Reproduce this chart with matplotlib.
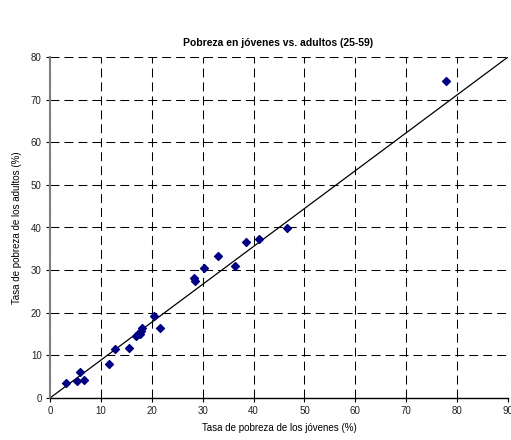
import matplotlib.pyplot as plt

# tasas de pobreza por país (%)
jovenes = [3.2, 5.4, 5.9, 6.7, 11.6, 12.7, 15.6, 16.9, 17.2, 17.6, 17.8, 18.1,
           20.5, 21.7, 28.2, 28.4, 30.2, 33.1, 36.3, 38.5, 41.0, 46.6, 77.9]
adultos = [3.6, 4.0, 6.0, 4.2, 7.9, 11.5, 11.7, 14.5, 14.9, 15.1, 15.7, 16.4,
           19.2, 16.5, 28.2, 27.5, 30.4, 33.4, 31.0, 36.5, 37.2, 39.9, 74.4]

# recta de referencia
linea_x = [0, 90]
linea_y = [0, 80]

x_ticks = list(range(0, 91, 10))
y_ticks = list(range(0, 81, 10))

plt.rcParams['font.family'] = ['Liberation Sans', 'DejaVu Sans']

fig = plt.figure(figsize=(5.11, 4.4), dpi=100)
ax = fig.add_axes([50/511, 42/440, 458/511, 341/440])

ax.plot(linea_x, linea_y, color='black', lw=0.9, zorder=2)
ax.scatter(jovenes, adultos, marker='D', s=16, color='#000080', zorder=3)

ax.set_xlim(0, 90)
ax.set_ylim(0, 80)
ax.set_xticks(x_ticks)
ax.set_yticks(y_ticks)
ax.grid(True, color='black', ls=(0, (8.6, 4.8)), lw=0.75)
ax.set_axisbelow(True)

for s in ['top', 'right']:
    ax.spines[s].set_visible(False)
ax.spines['left'].set_color('#808080')
ax.spines['left'].set_linewidth(1.5)
ax.spines['bottom'].set_linewidth(1.0)
ax.tick_params(labelsize=7, length=3, width=0.8, pad=3, labelcolor='#222222')

ax.set_xlabel('Tasa de pobreza de los jóvenes (%)', fontsize=7, labelpad=5)
ax.set_ylabel('Tasa de pobreza de los adultos (%)', fontsize=7, labelpad=6)
fig.text(0.545, 0.895, 'Pobreza en jóvenes vs. adultos (25-59)', ha='center',
         fontsize=7.5, fontweight='bold')

fig.savefig('out.png', dpi=100)
